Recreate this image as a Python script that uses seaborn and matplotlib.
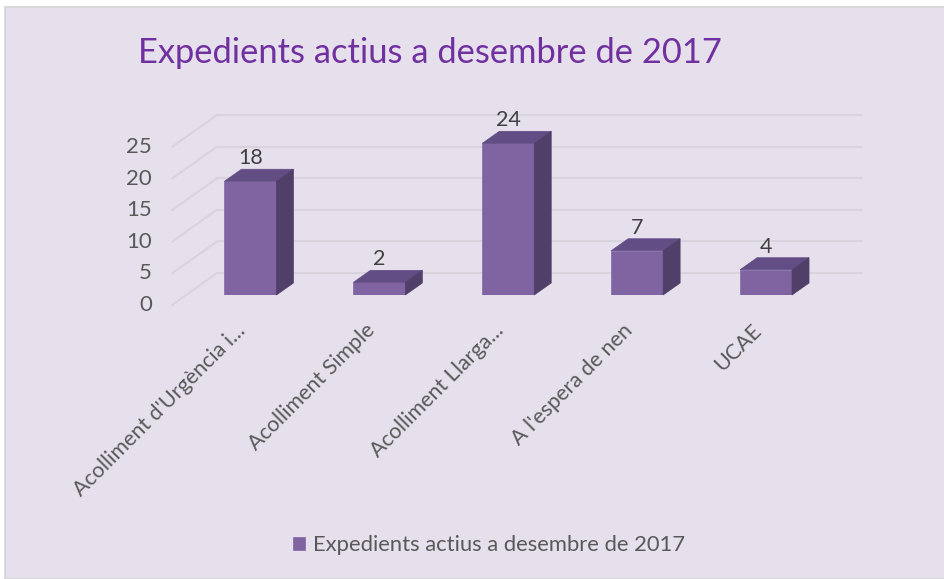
import matplotlib
matplotlib.use("Agg")
import matplotlib.pyplot as plt
import seaborn as sns
from matplotlib.patches import Polygon, Rectangle
from matplotlib.lines import Line2D

categories = ["Acolliment d'Urgència i...", "Acolliment Simple", "Acolliment Llarga...",
              "A l'espera de nen", "UCAE"]
values = [18, 2, 24, 7, 4]
yticks = [0, 5, 10, 15, 20, 25]
title = "Expedients actius a desembre de 2017"
series_name = "Expedients actius a desembre de 2017"

sns.set_theme(style="white")
plt.rcParams['font.family'] = ['Lato', 'DejaVu Sans']

W, H = 944, 579
fig = plt.figure(figsize=(W / 100, H / 100), dpi=100)
fig.patch.set_facecolor('white')
fig.add_artist(Rectangle((5 / W, 0), 1, (H - 7) / H, transform=fig.transFigure,
                         facecolor='#E6E0EC', edgecolor='#D3D3D3', lw=1.2, zorder=0))

# axes = front plane of bars
left_px, right_px, bot_px, top_px = 186, 830.5, 295, 137
ax = fig.add_axes([left_px / W, 1 - bot_px / H, (right_px - left_px) / W, (bot_px - top_px) / H])
ax.patch.set_alpha(0)
for s in ax.spines.values():
    s.set_visible(False)

front = '#8064A2'
side_c = '#503F69'
top_c = '#634D85'
text_c = '#595959'
grid_c = '#D8D3DC'

sns.barplot(x=categories, y=values, color=front, width=0.403, saturation=1, ax=ax,
            label=series_name, zorder=3, edgecolor='#8A70AC', linewidth=0.6)
ax.set_xlim(-0.5, 4.5)
ax.set_ylim(0, 25)

px_x = (right_px - left_px) / 5.0
px_y = (bot_px - top_px) / 25.0

# depth offsets (pixels -> data)
bd_x, bd_y = 17 / px_x, 12 / px_y          # bar depth
bw_x, bw_y = 31 / px_x, 22 / px_y          # back wall
fw_x, fw_y = -14 / px_x, -10 / px_y        # front wall

# walls / gridlines
for v in yticks:
    ax.add_line(Line2D([-0.5 + bw_x, 4.5 + bw_x], [v + bw_y, v + bw_y], color=grid_c,
                       lw=1.5, clip_on=False, zorder=1))
    ax.add_line(Line2D([-0.5 + fw_x, -0.5 + bw_x], [v + fw_y, v + bw_y], color=grid_c,
                       lw=1.5, clip_on=False, zorder=1))
    ax.text(-0.5 + fw_x - 20 / px_x, v + fw_y, str(v), ha='right', va='center',
            fontsize=16, color=text_c, clip_on=False)

# 3D faces
for p in list(ax.patches):
    x0, w, h = p.get_x(), p.get_width(), p.get_height()
    ax.add_patch(Polygon([(x0, h), (x0 + w, h), (x0 + w + bd_x, h + bd_y), (x0 + bd_x, h + bd_y)],
                         closed=True, facecolor=top_c, edgecolor=top_c, lw=0.5,
                         clip_on=False, zorder=3))
    ax.add_patch(Polygon([(x0 + w, 0), (x0 + w + bd_x, bd_y), (x0 + w + bd_x, h + bd_y), (x0 + w, h)],
                         closed=True, facecolor=side_c, edgecolor=side_c, lw=0.5,
                         clip_on=False, zorder=3))
    ax.text(x0 + w / 2, h + bd_y + 1 / px_y, f"{h:g}", ha='center', va='bottom',
            fontsize=15.5, color='#404040', clip_on=False, zorder=4)

ax.set_yticks([])
ax.set_xticks(range(len(categories)))
ax.set_xticklabels([])
ax.tick_params(axis='x', length=0)
for i, lab in enumerate(categories):
    ax.text(i - 15 / px_x, -25 / px_y, lab, rotation=45, ha='right', va='top',
            rotation_mode='anchor', fontsize=15.5, color=text_c, clip_on=False)
ax.set_xlabel('')
ax.set_ylabel('')

fig.text(138 / W, 1 - 53 / H, title, color='#7030A0', fontsize=24.8, ha='left', va='center')

leg = ax.legend(loc='center', bbox_to_anchor=(489 / W, 1 - 545 / H), bbox_transform=fig.transFigure,
                frameon=False, fontsize=15.8, handlelength=0.55, handleheight=0.55, handletextpad=0.4,
                labelcolor=text_c)

fig.savefig('out.png', dpi=100, facecolor=fig.get_facecolor())
